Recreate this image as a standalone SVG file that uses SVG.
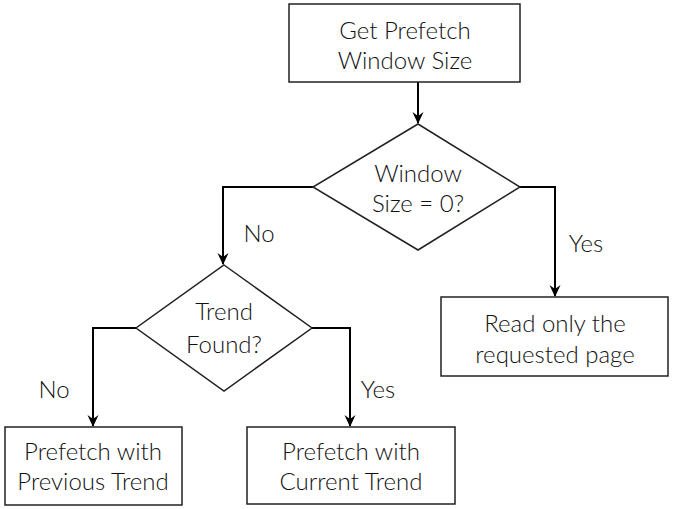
<svg xmlns="http://www.w3.org/2000/svg" width="675" height="509" viewBox="0 0 675 509">
<defs>
<marker id="arr" viewBox="0 0 12 12" refX="11" refY="6" markerWidth="12" markerHeight="12" markerUnits="userSpaceOnUse" orient="auto">
<path d="M0,0.5 L12,6 L0,11.5 L4,6 Z" fill="#000"/>
</marker>
</defs>
<style>
.shape{fill:#fff;stroke:#222;stroke-width:1.5}
.conn{fill:none;stroke:#000;stroke-width:2}
text{font-family:Lato,"Open Sans","Liberation Sans",sans-serif;font-weight:300;font-size:24px;fill:#111;text-anchor:middle}
</style>
<rect width="675" height="509" fill="#fff"/>
<g id="connectors">
<path class="conn" d="M418,82 V123" marker-end="url(#arr)"/>
<path class="conn" d="M313,187 H223 V264" marker-end="url(#arr)"/>
<path class="conn" d="M520,187 H555 V296" marker-end="url(#arr)"/>
<path class="conn" d="M136,328 H93 V426" marker-end="url(#arr)"/>
<path class="conn" d="M312,328 H350 V426" marker-end="url(#arr)"/>
<text x="259" y="242">No</text>
<text x="586" y="252">Yes</text>
<text x="54" y="398">No</text>
<text x="378" y="398">Yes</text>
</g>
<g id="start">
<rect class="shape" x="289" y="4" width="231" height="78"/>
<text x="405" y="39">Get Prefetch</text>
<text x="405" y="69">Window Size</text>
</g>
<g id="d1">
<polygon class="shape" points="418,124 520,187 418,250 313,187"/>
<text x="418" y="182">Window</text>
<text x="418" y="212">Size = 0?</text>
</g>
<g id="d2">
<polygon class="shape" points="224,265 312,328 224,391 136,328"/>
<text x="224" y="320">Trend</text>
<text x="224" y="353">Found?</text>
</g>
<g id="read">
<rect class="shape" x="441" y="297" width="227" height="79"/>
<text x="555" y="332">Read only the</text>
<text x="555" y="363">requested page</text>
</g>
<g id="prev">
<rect class="shape" x="5" y="427" width="177" height="78"/>
<text x="93" y="460">Prefetch with</text>
<text x="93" y="490">Previous Trend</text>
</g>
<g id="cur">
<rect class="shape" x="247" y="427" width="208" height="77"/>
<text x="351" y="460">Prefetch with</text>
<text x="351" y="490">Current Trend</text>
</g>
</svg>
